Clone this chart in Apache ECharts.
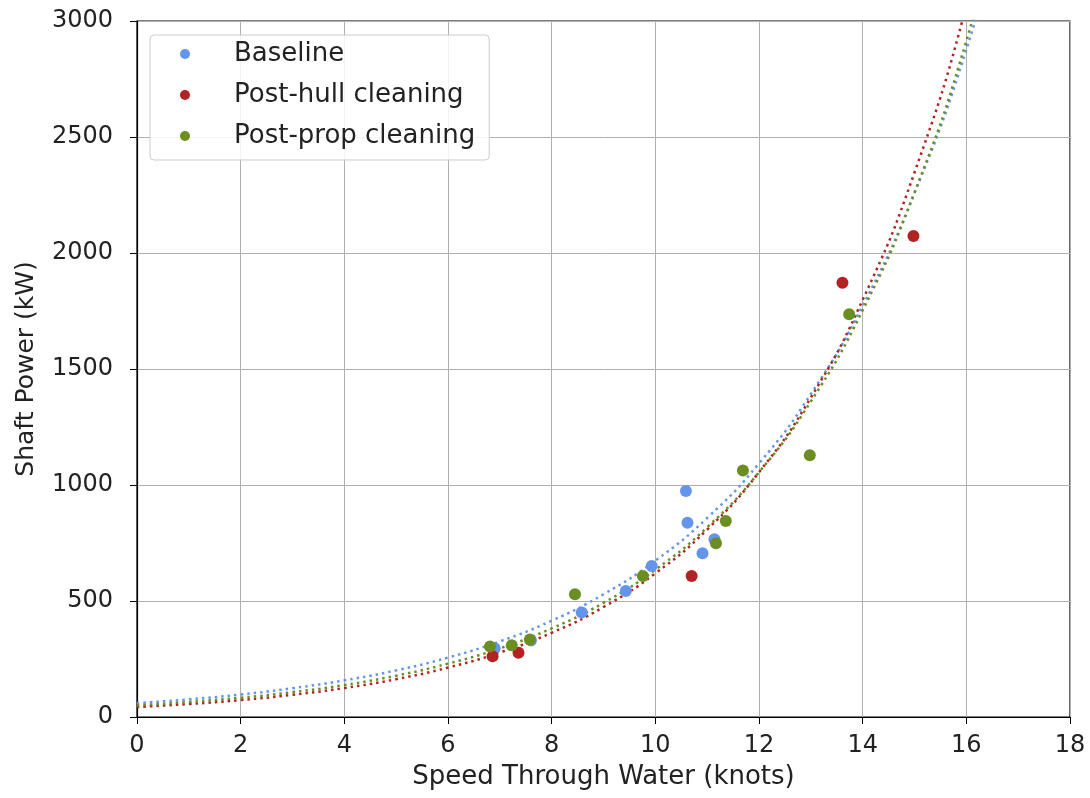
<!DOCTYPE html>
<html>
<head>
<meta charset="utf-8">
<script src="https://cdn.jsdelivr.net/npm/echarts@6/dist/echarts.min.js"></script>
<style>html,body{margin:0;padding:0;background:#fff;}#c{width:1090px;height:798px;}</style>
</head>
<body>
<div id="c"></div>
<script>
// Scatter observations [speed (knots), shaft power (kW)]
const baselinePts = [[8.58,450],[9.43,543],[9.93,651],[10.59,974],[10.62,837],[10.91,706],[11.14,766],[6.9,296],[7.6,330]];
const hullPts = [[6.86,262],[7.36,277],[10.70,608],[13.61,1872],[14.98,2073]];
const propPts = [[6.81,304],[7.23,309],[7.58,334],[8.45,529],[9.76,608],[11.17,749],[11.36,845],[11.69,1063],[12.98,1128],[13.74,1736]];

// Trend curves at integer speeds
const trendSpeeds = [0,1,2,3,4,5,6,7,8,9,10,11,12,13,14,15,16,17];
const baselineTrend = [60,76,97,124,158,201,256,326,415,529,674,858,1093,1392,1773,2259,2877,3664];
const hullTrend = [43,56,73,96,125,163,213,278,363,474,619,808,1055,1377,1798,2347,3064,4001];
const propTrend = [50,65,83,107,138,178,230,296,382,492,635,818,1055,1360,1753,2260,2914,3757];

const xTicks = {min:0, max:18, interval:2};
const yTicks = {min:0, max:3000, interval:500};

const names = ['Baseline','Post-hull cleaning','Post-prop cleaning'];
const colors = ['#6495ED','#B22222','#6B8E23'];
const pts = [baselinePts, hullPts, propPts];
const trends = [baselineTrend, hullTrend, propTrend];

const FONT = 'DejaVu Sans';
const series = [];
trends.forEach((t,i)=>{
  series.push({
    type:'line', name: names[i]+' fit', data: trendSpeeds.map((s,k)=>[s,t[k]]),
    smooth: true, showSymbol:false, symbol:'none', silent:true, clip:true,
    lineStyle:{color:colors[i], width:2.5, type:[2.5,4]}, z:2
  });
});
pts.forEach((p,i)=>{
  series.push({
    type:'scatter', name: names[i], data: p, symbolSize: 12,
    itemStyle:{color:colors[i], opacity:1}, z:5
  });
});

const chart = echarts.init(document.getElementById('c'));
chart.setOption({
  animation:false,
  backgroundColor:'#fff',
  grid:{left:137, right:20, top:21, bottom:81, show:true, borderColor:'#000', borderWidth:1.2, backgroundColor:'transparent'},
  legend:{
    data: names, left:150, top:35, orient:'vertical',
    icon:'circle', itemWidth:10, itemHeight:10, itemGap:15,
    padding:[6,14,11,30],
    backgroundColor:'rgba(255,255,255,0.85)', borderColor:'#cccccc', borderWidth:1, borderRadius:4,
    textStyle:{fontFamily:FONT, fontSize:26, color:'#222', padding:[0,0,0,39]}
  },
  xAxis:{
    type:'value', min:xTicks.min, max:xTicks.max, interval:xTicks.interval,
    name:'Speed Through Water (knots)', nameLocation:'middle', nameGap:47,
    nameTextStyle:{fontFamily:FONT, fontSize:26, color:'#222'},
    axisLine:{show:true, lineStyle:{color:'#000', width:1.2}},
    axisTick:{show:true, inside:false, length:7, lineStyle:{color:'#000'}},
    axisLabel:{fontFamily:FONT, fontSize:24, color:'#222', margin:17},
    splitLine:{show:true, lineStyle:{color:'#b0b0b0', width:1}}
  },
  yAxis:{
    type:'value', min:yTicks.min, max:yTicks.max, interval:yTicks.interval,
    name:'Shaft Power (kW)', nameLocation:'middle', nameGap:98, nameRotate:90,
    nameTextStyle:{fontFamily:FONT, fontSize:25, color:'#222'},
    axisLine:{show:true, lineStyle:{color:'#000', width:1.2}},
    axisTick:{show:true, inside:false, length:7, lineStyle:{color:'#000'}},
    axisLabel:{fontFamily:FONT, fontSize:24, color:'#222', margin:24, formatter:(v)=>String(v)},
    splitLine:{show:true, lineStyle:{color:'#b0b0b0', width:1}}
  },
  series: series
});
</script>
</body>
</html>
